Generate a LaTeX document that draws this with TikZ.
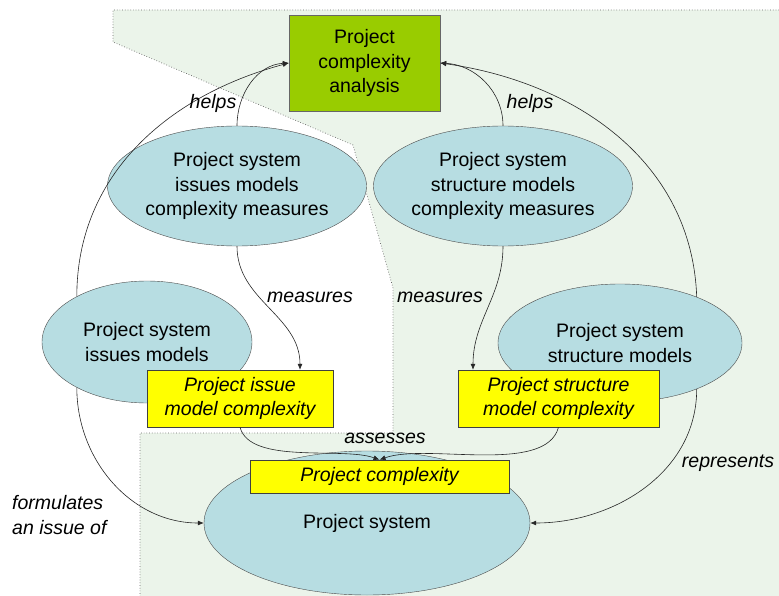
\documentclass[tikz,border=0pt]{standalone}
\usepackage{fontspec}
\setmainfont{Liberation Sans}
\usetikzlibrary{shapes.geometric, arrows.meta}

\definecolor{bggreen}{HTML}{EBF4EA}
\definecolor{boxgreen}{HTML}{99CC00}
\definecolor{ellblue}{HTML}{B7DDE2}
\definecolor{boxyellow}{HTML}{FFFF00}

\begin{document}
\begin{tikzpicture}[x=1pt, y=-1pt, >={Latex[length=6pt, width=5pt]},
    txt/.style={font=\fontsize{19.5}{24.5}\selectfont, align=center},
    lbl/.style={font=\fontsize{19.5}{24.5}\selectfont\itshape, inner sep=0pt},
    model/.style={txt, ellipse, draw=black!70, fill=ellblue, inner sep=0pt},
    cplx/.style={txt, font=\fontsize{19.5}{24.5}\selectfont\itshape, rectangle, draw=black!75, fill=boxyellow, inner sep=0pt},
    rel/.style={->, black!85, line width=0.6pt}]
    \useasboundingbox (0,0) rectangle (779,596);
    % background area
    \fill[bggreen] (113,10) -- (779,10) -- (779,596) -- (140,596) -- (140,433) -- (393,433) -- (393,288) -- (353,145) -- (113,42) -- cycle;
    \draw[black!60, dotted, line width=0.7pt] (779,10) -- (113,10) -- (113,42) -- (353,145) -- (393,288) -- (393,433) -- (140,433) -- (140,596);

    \node[txt, rectangle, draw=black!60, fill=boxgreen, minimum width=151, minimum height=96] (analysis) at (364.5,63) {Project\\complexity\\analysis};
    \node[model, minimum width=236, minimum height=120] (imeas) at (237,186) {Project system\\issues models\\complexity measures};
    \node[model, minimum width=234, minimum height=120] (smeas) at (503,186) {Project system\\structure models\\complexity measures};
    \node[model, minimum width=210, minimum height=122] (imod) at (147,342) {Project system\\issues models};
    \node[model, minimum width=244, minimum height=118] (smod) at (620,343) {Project system\\structure models};
    \node[model, minimum width=326, minimum height=144] (psys) at (367,523) {Project system};
    \node[cplx, minimum width=186, minimum height=57] (ibox) at (240,398.5) {Project issue\\model complexity};
    \node[cplx, minimum width=201, minimum height=57] (sbox) at (558.5,398.5) {Project structure\\model complexity};
    \node[cplx, minimum width=259, minimum height=33] (pcbox) at (379.5,476.5) {Project complexity};

    \draw[rel] (imeas.north) to[out=90, in=183] (analysis.west);
    \draw[rel] (imod.147) to[out=90, in=195] (analysis.west);
    \draw[rel] (smeas.north) to[out=90, in=-3] (analysis.east);
    \draw[rel] (smod.31) to[out=92, in=-8] (analysis.east);
    \draw[rel] (imeas.south) to[out=-90, in=90] ([xshift=60]ibox.north);
    \draw[rel] (smeas.south) to[out=-90, in=90] ([xshift=-85.5]sbox.north);
    \draw[rel] (ibox.south) to[out=-75, in=160, looseness=0.7] (pcbox.north);
    \draw[rel] (sbox.south) to[out=-105, in=20, looseness=0.7] (pcbox.north);
    \draw[rel] (imod.213) to[out=-90, in=180] (psys.west);
    \draw[rel] (smod.-31) to[out=-90, in=0] (psys.east);

    \node[lbl] (helpsi) at (213,103) {helps};
    \node[lbl] (helpss) at (530,103) {helps};
    \node[lbl] (measi) at (310,297) {measures};
    \node[lbl] (meass) at (440,297) {measures};
    \node[lbl] (assess) at (385,438) {assesses};
    \node[lbl, align=left, anchor=west] (formul) at (12,515) {formulates\\an issue of};
    \node[lbl] (repr) at (728,463) {represents};
    %\node[lbl] at (380,10) {Project};
\end{tikzpicture}
\end{document}
